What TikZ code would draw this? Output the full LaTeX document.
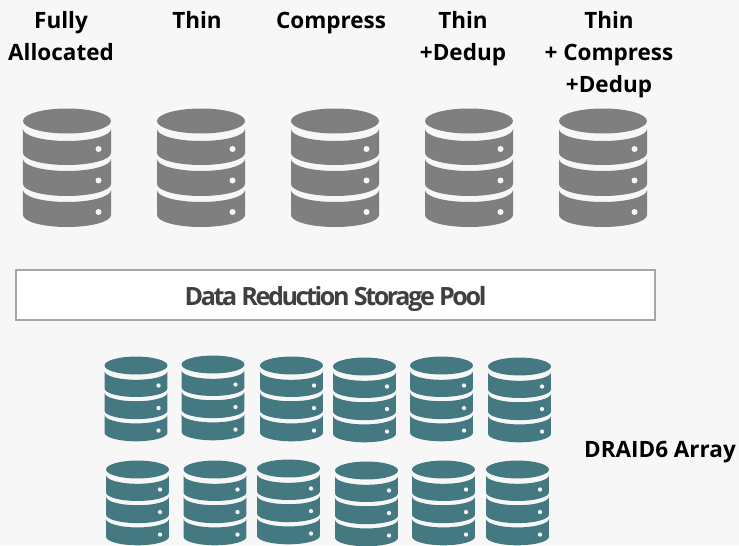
\documentclass[tikz,border=0pt]{standalone}
\usepackage{fontspec}
\setmainfont{Open Sans}
\newfontfamily\poolfont[LetterSpace=-9.5]{Open Sans}
\definecolor{bg_gray}{RGB}{247, 247, 247}
\definecolor{db_gray}{RGB}{127, 127, 127}
\definecolor{db_teal}{RGB}{68, 121, 129}
\definecolor{pool_line}{RGB}{166, 166, 166}
\definecolor{pool_text}{RGB}{64, 64, 64}
\tikzstyle{lab}=[align=center,inner sep=0pt,font=\fontsize{12.8}{18.2}\selectfont\bfseries]
\tikzstyle{pool}=[rectangle,fill=white,draw=pool_line,line width=1.6pt,
  minimum width=12.78cm,minimum height=1cm,text=pool_text,
  font=\fontsize{14.3}{16}\poolfont\bfseries]
\tikzstyle{big}=[fill=db_gray]
\tikzstyle{small}=[fill=db_teal,scale=0.715]
\tikzset{dbicon/.pic={
    \path[pic actions] (0,0) ellipse [x radius=0.88,y radius=0.25];
    \path[pic actions] (-0.88,-0.16) arc [start angle=180,end angle=360,x radius=0.88,y radius=0.24]
      -- (0.88,-0.64) arc [start angle=360,end angle=180,x radius=0.88,y radius=0.24] -- cycle;
    \path[pic actions] (-0.88,-0.76) arc [start angle=180,end angle=360,x radius=0.88,y radius=0.24]
      -- (0.88,-1.26) arc [start angle=360,end angle=180,x radius=0.88,y radius=0.24] -- cycle;
    \path[pic actions] (-0.88,-1.38) arc [start angle=180,end angle=360,x radius=0.88,y radius=0.24]
      -- (0.88,-1.88) arc [start angle=360,end angle=180,x radius=0.88,y radius=0.24] -- cycle;
    \fill[bg_gray] (0.63,-0.56) circle [radius=0.06];
    \fill[bg_gray] (0.63,-1.19) circle [radius=0.06];
    \fill[bg_gray] (0.63,-1.82) circle [radius=0.06];
}}

\begin{document}
\begin{tikzpicture}
    \fill[bg_gray] (0,0) rectangle (14.78,10.9);
    \useasboundingbox (0,0) rectangle (14.78,10.9);
    % volume labels
    \node [style=lab] (full) at (1.22,10.18) {Fully\\Allocated};
    \node [style=lab] (thin) at (3.94,10.5) {Thin};
    \node [style=lab] (comp) at (6.62,10.44) {Compress};
    \node [style=lab] (dedup) at (9.26,10.12) {Thin\\+Dedup};
    \node [style=lab] (all) at (12.18,9.80) {Thin\\+ Compress\\+Dedup};
    % volumes
    \pic [style=big] (v1) at (1.34,8.48) {dbicon};
    \pic [style=big] (v2) at (4.02,8.48) {dbicon};
    \pic [style=big] (v3) at (6.70,8.48) {dbicon};
    \pic [style=big] (v4) at (9.38,8.48) {dbicon};
    \pic [style=big] (v5) at (12.06,8.48) {dbicon};
    \node [style=pool] (main) at (6.71,5.0) {\raisebox{-6.2pt}[0pt][0pt]{Data Reduction Storage Pool}};
    % array, top row
    \pic [style=small] (a1) at (2.72,3.59) {dbicon};
    \pic [style=small] (a2) at (4.26,3.61) {dbicon};
    \pic [style=small] (a3) at (5.83,3.59) {dbicon};
    \pic [style=small] (a4) at (7.29,3.57) {dbicon};
    \pic [style=small] (a5) at (8.83,3.59) {dbicon};
    \pic [style=small] (a6) at (10.39,3.57) {dbicon};
    % array, bottom row
    \pic [style=small] (b1) at (2.75,1.51) {dbicon};
    \pic [style=small] (b2) at (4.30,1.51) {dbicon};
    \pic [style=small] (b3) at (5.77,1.53) {dbicon};
    \pic [style=small] (b4) at (7.33,1.49) {dbicon};
    \pic [style=small] (b5) at (8.87,1.51) {dbicon};
    \pic [style=small] (b6) at (10.35,1.51) {dbicon};
    \node [style=lab] (draid) at (13.2,1.86) {DRAID6 Array};
  \end{tikzpicture}
\end{document}
